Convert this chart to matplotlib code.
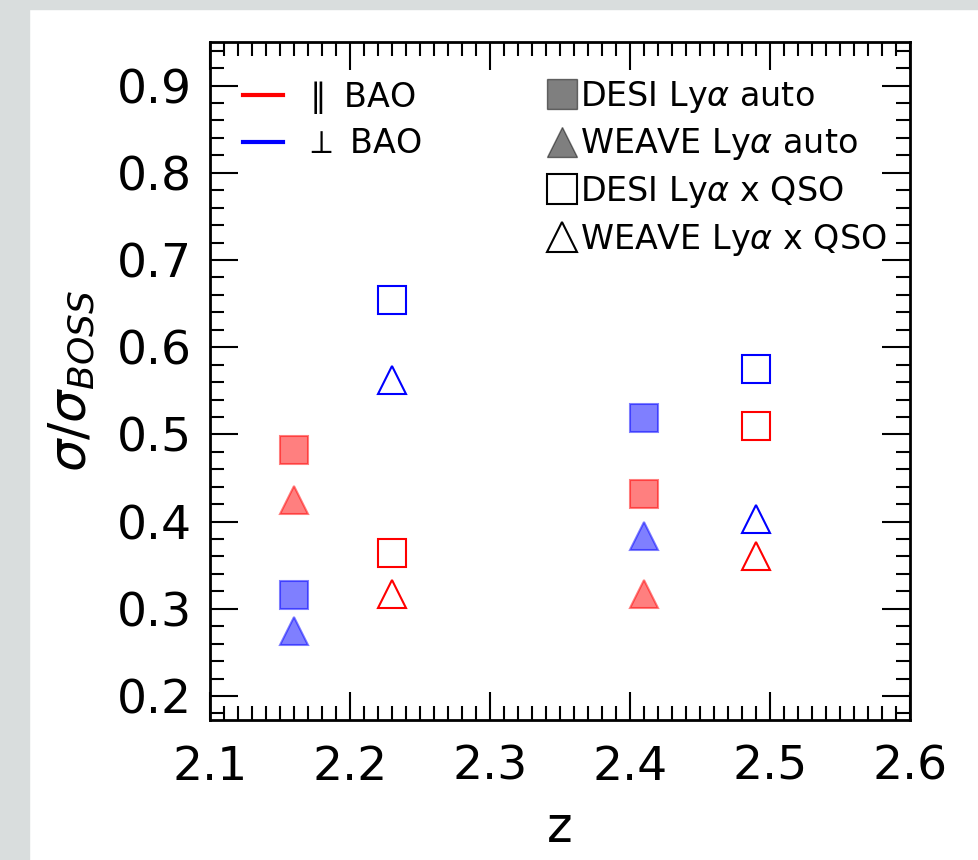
import numpy as np
import matplotlib.pyplot as plt
from matplotlib.lines import Line2D
from matplotlib.patches import Rectangle
from matplotlib.ticker import MultipleLocator

# redshifts
z_desi_auto = [2.16, 2.41]
z_weave_auto = [2.16, 2.41]
z_desi_qso = [2.23, 2.49]
z_weave_qso = [2.23, 2.49]

# parallel BAO (red)
par_desi_auto = [0.482, 0.432]
par_weave_auto = [0.425, 0.317]
par_desi_qso = [0.364, 0.510]
par_weave_qso = [0.317, 0.361]

# perpendicular BAO (blue)
perp_desi_auto = [0.316, 0.519]
perp_weave_auto = [0.274, 0.383]
perp_desi_qso = [0.654, 0.575]
perp_weave_qso = [0.562, 0.403]

fig = plt.figure(figsize=(9.79, 8.6), dpi=100)
# grey screenshot frame
fig.patches.append(Rectangle((0, 0), 0.03, 1, transform=fig.transFigure,
                             color='#d9dddd', zorder=-10))
fig.patches.append(Rectangle((0, 0.99), 1, 0.01, transform=fig.transFigure,
                             color='#d9dddd', zorder=-10))

ax = fig.add_axes([210/979, 1 - 720/860, 700/979, 678/860])

ms = 20
for col, vals in [('red', (par_desi_auto, par_weave_auto, par_desi_qso, par_weave_qso)),
                  ('blue', (perp_desi_auto, perp_weave_auto, perp_desi_qso, perp_weave_qso))]:
    da, wa, dq, wq = vals
    ax.plot(z_desi_auto, da, 's', color=col, alpha=0.5, ms=ms, mew=1.5, ls='none')
    ax.plot(z_weave_auto, wa, '^', color=col, alpha=0.5, ms=ms, mew=1.5, ls='none')
    ax.plot(z_desi_qso, dq, 's', mfc='none', mec=col, ms=ms, mew=1.5, ls='none')
    ax.plot(z_weave_qso, wq, '^', mfc='none', mec=col, ms=ms, mew=1.5, ls='none')

ax.set_xlim(2.1, 2.6)
ax.set_ylim(0.1725, 0.95)
ax.xaxis.set_major_locator(MultipleLocator(0.1))
ax.xaxis.set_minor_locator(MultipleLocator(0.01))
ax.yaxis.set_major_locator(MultipleLocator(0.1))
ax.yaxis.set_minor_locator(MultipleLocator(0.02))
ax.tick_params(which='both', direction='in', top=True, right=True, width=1.5)
ax.tick_params(which='major', length=20, labelsize=34, pad=13)
ax.tick_params(axis='x', which='major', pad=18)
ax.tick_params(which='minor', length=10)
for s in ax.spines.values():
    s.set_linewidth(2)

ax.set_xlabel('z', fontsize=35, labelpad=10)
ax.set_ylabel(r'$\sigma/\sigma_{BOSS}$', fontsize=37, labelpad=14)

h1 = [Line2D([], [], color='red', lw=3), Line2D([], [], color='blue', lw=3)]
leg1 = ax.legend(h1, [r'$\parallel$ BAO', r'$\perp$ BAO'], loc='upper left',
                 frameon=False, fontsize=24, handlelength=1.2, handletextpad=0.6,
                 bbox_to_anchor=(0.005, 0.99), labelspacing=0.35)
ax.add_artist(leg1)

h2 = [Line2D([], [], marker='s', color='k', alpha=0.5, ms=21, ls='none'),
      Line2D([], [], marker='^', color='k', alpha=0.5, ms=21, ls='none'),
      Line2D([], [], marker='s', mfc='none', mec='k', ms=21, mew=1.5, ls='none'),
      Line2D([], [], marker='^', mfc='none', mec='k', ms=21, mew=1.5, ls='none')]
ax.legend(h2, [r'DESI Ly$\alpha$ auto', r'WEAVE Ly$\alpha$ auto',
               r'DESI Ly$\alpha$ x QSO', r'WEAVE Ly$\alpha$ x QSO'],
          loc='upper right', frameon=False, fontsize=24, handlelength=0.8,
          handletextpad=0.15, bbox_to_anchor=(1.01, 0.99), labelspacing=0.35)

fig.savefig('out.png', dpi=100)
